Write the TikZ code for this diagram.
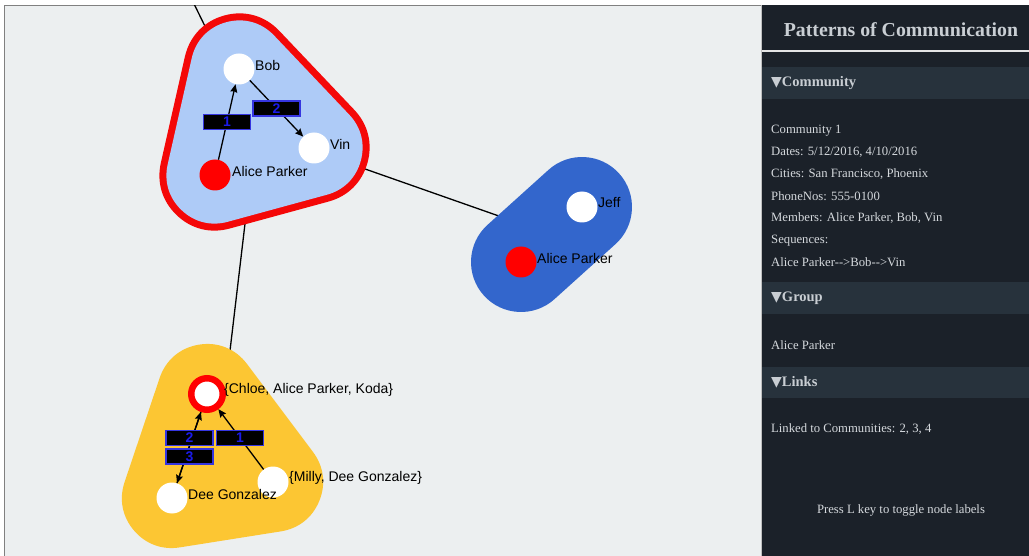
\documentclass[tikz,border=0pt]{standalone}
\usepackage{fontspec}
\setmainfont{Liberation Serif}
\newfontfamily\arialf{Liberation Sans}
\newfontfamily\symf{DejaVu Sans}
\usetikzlibrary{arrows.meta,calc}
\pgfdeclarelayer{back}
\pgfdeclarelayer{hull}
\pgfsetlayers{back,hull,main}
\definecolor{canvasbg}{HTML}{ECEFF0}
\definecolor{panelbg}{HTML}{1B2129}
\definecolor{barbg}{HTML}{27323C}
\definecolor{paneltxt}{HTML}{D5D9DD}
\definecolor{titletxt}{HTML}{C9CED3}
\definecolor{hullred}{HTML}{F40808}
\definecolor{hullblue}{HTML}{AECBF7}
\definecolor{commblue}{HTML}{3366CC}
\definecolor{commyellow}{HTML}{FCC633}
\definecolor{lblblue}{HTML}{1A1AE8}
\definecolor{lblborder}{HTML}{3535E0}
\tikzset{
  member/.style={circle, fill=white, minimum size=31pt, inner sep=0pt},
  seed/.style={member, fill=red},
  ring/.style={circle, fill=white, draw=red, line width=6.5pt, minimum size=31.5pt, inner sep=0pt},
  nm/.style={font=\arialf\fontsize{14}{16}\selectfont, anchor=west, inner sep=0pt, text=black},
  msg/.style={-{Stealth[length=8pt,width=7pt,inset=1pt]}, line width=1.3pt, black},
  seqbox/.style={fill=black, draw=lblborder, line width=1.2pt, minimum width=47pt, minimum height=15pt, inner sep=0pt, text=lblblue, font=\arialf\bfseries\fontsize{14}{14}\selectfont},
  link/.style={line width=1.3pt, black},
  hdr/.style={anchor=west, inner sep=0pt, text=titletxt, font=\bfseries\fontsize{14.5}{17}\selectfont},
  body/.style={anchor=west, inner sep=0pt, text=paneltxt, font=\fontsize{12.7}{15}\selectfont},
}
\newcommand{\tri}{{\symf\fontsize{14}{14}\selectfont ▼}}
\begin{document}
\begin{tikzpicture}[x=1pt,y=-1pt]
\useasboundingbox (0,0) rectangle (1029,556);
% members
\node[member] (bob) at (239,69) {};
\node[member] (vin) at (314,148) {};
\node[seed] (alice1) at (215,175) {};
\node[member] (jeff) at (582,207) {};
\node[seed] (alice2) at (521,262) {};
\node[ring] (chloe) at (207,394) {};
\node[member] (milly) at (273,482) {};
\node[member] (dee) at (172,498) {};
% names
\node[nm] (bobN) at ([shift={(16,-4)}]bob.center) {Bob};
\node[nm] (vinN) at ([shift={(16,-4)}]vin.center) {Vin};
\node[nm] (alice1N) at ([shift={(17,-4)}]alice1.center) {Alice Parker};
\node[nm] (jeffN) at ([shift={(16,-4)}]jeff.center) {Jeff};
\node[nm] (alice2N) at ([shift={(16,-4)}]alice2.center) {Alice Parker};
\node[nm] (chloeN) at ([shift={(17,-4)}]chloe.center) {\{Chloe, Alice Parker, Koda\}};
\node[nm] (millyN) at ([shift={(16,-4)}]milly.center) {\{Milly, Dee Gonzalez\}};
\node[nm] (deeN) at ([shift={(16,-4)}]dee.center) {Dee Gonzalez};
% message edges
\draw[msg] (alice1) -- (bob);
\draw[msg] (bob) -- (vin);
\draw[msg] (milly) -- (chloe);
\draw[msg] (dee) -- (chloe);
\draw[msg] (chloe) -- (dee);
\node[seqbox] (s11) at ($(alice1)!0.5!(bob)$) {1};
\node[seqbox] (s12) at ($(bob)!0.5!(vin)$) {2};
\node[seqbox] (s31) at ($(milly)!0.5!(chloe)$) {1};
\node[seqbox] (s32) at ($(dee)!0.5!(chloe)+(0,-8)$) {2};
\node[seqbox] (s33) at ($(dee)!0.5!(chloe)+(0,10.5)$) {3};
% hulls
\begin{pgfonlayer}{hull}
\filldraw[hullred, line width=111pt, line join=round] (bob.center) -- (vin.center) -- (alice1.center) -- cycle;
\filldraw[hullblue, line width=97pt, line join=round] (bob.center) -- (vin.center) -- (alice1.center) -- cycle;
\draw[commblue, line width=100pt, line cap=round] (jeff.center) -- (alice2.center);
\filldraw[commyellow, line width=100pt, line join=round] (chloe.center) -- (milly.center) -- (dee.center) -- cycle;
\end{pgfonlayer}
% canvas and community links
\begin{pgfonlayer}{back}
\fill[white] (0,0) rectangle (1029,556);
\fill[canvasbg] (4,5) rectangle (762,556);
\draw[gray, line width=1pt] (4.5,556) -- (4.5,5.5) -- (762,5.5);
\draw[gray!50, line width=1pt] (761.5,5) -- (761.5,556);
\begin{scope}
\clip (5,6) rectangle (761,556);
\coordinate (c1) at (barycentric cs:bob=1,vin=1,alice1=1);
\coordinate (c2) at (barycentric cs:jeff=1,alice2=1);
\coordinate (c3) at (barycentric cs:chloe=1,milly=1,dee=1);
\coordinate (c0) at (177,-31);
\draw[link] (c1) -- (c0);
\draw[link] (c1) -- (c2);
\draw[link] (c1) -- (c3);
\end{scope}
\end{pgfonlayer}
% side panel
\fill[panelbg] (762,5) rectangle (1029,556);
\node[text=titletxt, font=\bfseries\fontsize{19.8}{22}\selectfont, inner sep=0pt] (title) at (901,30) {Patterns of Communication};
\draw[white!80!gray, line width=1.6pt] (762,51) -- (1029,51);
\fill[barbg] (762,67) rectangle (1029,99);
\fill[barbg] (762,282) rectangle (1029,314);
\fill[barbg] (762,367) rectangle (1029,398);
\node[hdr] (hcomm) at (771,83) {\tri Community};
\node[hdr] (hgroup) at (771,298) {\tri Group};
\node[hdr] (hlinks) at (771,382) {\tri Links};
\node[body] (b1) at (771,130.5) {Community 1};
\node[body] (b2) at (771,152.5) {Dates: 5/12/2016, 4/10/2016};
\node[body] (b3) at (771,174.5) {Cities: San Francisco, Phoenix};
\node[body] (b4) at (771,196.5) {PhoneNos: 555-0100};
\node[body] (b5) at (771,218) {Members: Alice Parker, Bob, Vin};
\node[body] (b6) at (771,240.5) {Sequences:};
\node[body] (b7) at (771,262.5) {Alice Parker-{}->Bob-{}->Vin};
\node[body] (g1) at (771,345.5) {Alice Parker};
\node[body] (l1) at (771,429.5) {Linked to Communities: 2, 3, 4};
\node[body, anchor=center] (press) at (901,510) {Press L key to toggle node labels};
\end{tikzpicture}
\end{document}
